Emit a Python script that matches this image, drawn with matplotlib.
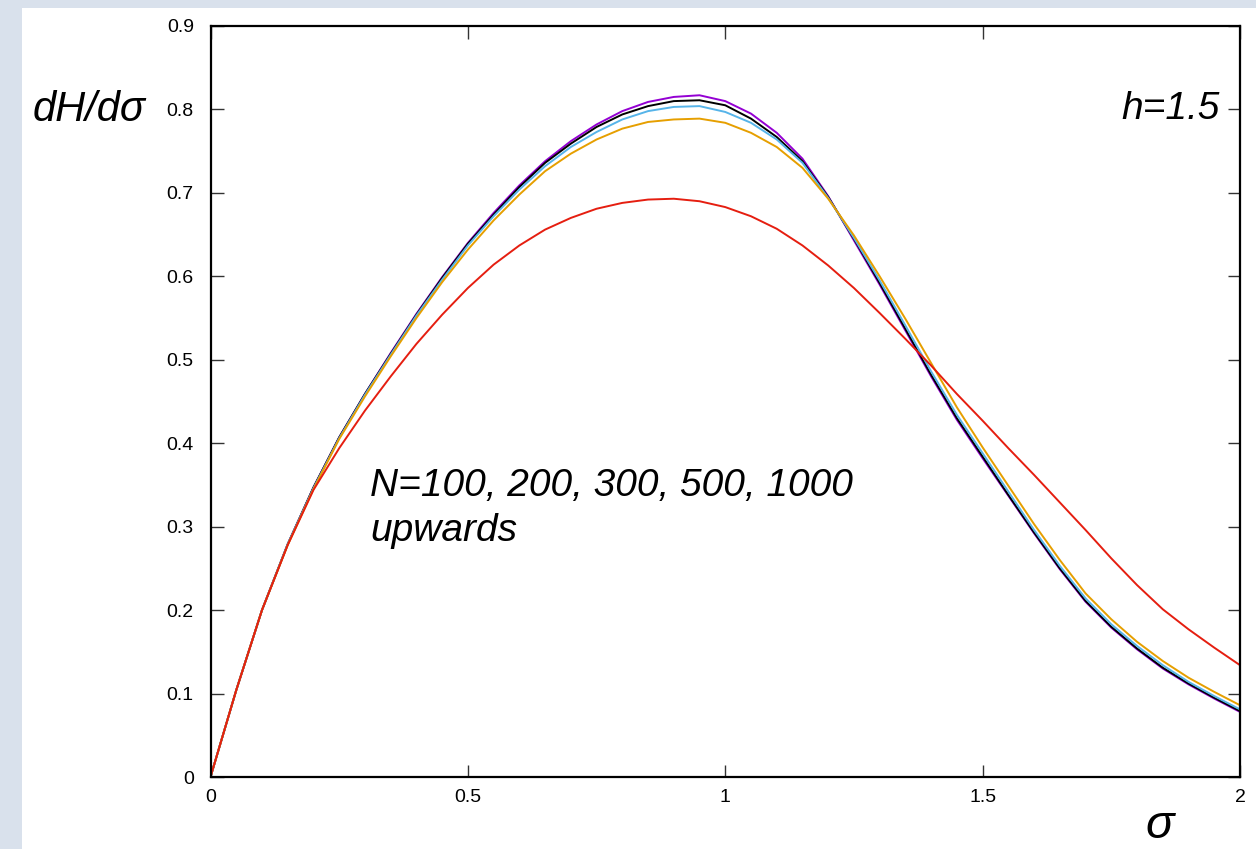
import matplotlib
matplotlib.use("Agg")
from matplotlib import pyplot as plt
from matplotlib import patches as mpatches
from matplotlib import ticker

# sigma grid (step 0.05) and dH/dsigma for each N
sigma = [0.00, 0.05, 0.10, 0.15, 0.20, 0.25, 0.30, 0.35, 0.40, 0.45,
         0.50, 0.55, 0.60, 0.65, 0.70, 0.75, 0.80, 0.85, 0.90, 0.95,
         1.00, 1.05, 1.10, 1.15, 1.20, 1.25, 1.30, 1.35, 1.40, 1.45,
         1.50, 1.55, 1.60, 1.65, 1.70, 1.75, 1.80, 1.85, 1.90, 1.95, 2.00]

n1000 = [0.000, 0.104, 0.200, 0.279, 0.347, 0.407, 0.459, 0.508, 0.555, 0.599,
         0.640, 0.676, 0.709, 0.738, 0.762, 0.782, 0.798, 0.809, 0.815, 0.817,
         0.810, 0.795, 0.772, 0.741, 0.696, 0.643, 0.590, 0.535, 0.480, 0.428,
         0.382, 0.337, 0.292, 0.249, 0.210, 0.179, 0.153, 0.130, 0.111, 0.094, 0.078]

n500 = [0.000, 0.104, 0.200, 0.279, 0.347, 0.407, 0.459, 0.507, 0.554, 0.598,
        0.639, 0.674, 0.707, 0.736, 0.759, 0.779, 0.794, 0.804, 0.810, 0.811,
        0.805, 0.789, 0.767, 0.738, 0.695, 0.645, 0.592, 0.537, 0.482, 0.430,
        0.384, 0.338, 0.293, 0.250, 0.211, 0.180, 0.154, 0.131, 0.112, 0.095, 0.079]

n300 = [0.000, 0.104, 0.200, 0.279, 0.346, 0.406, 0.458, 0.506, 0.553, 0.596,
        0.637, 0.672, 0.704, 0.732, 0.755, 0.773, 0.788, 0.798, 0.803, 0.804,
        0.797, 0.784, 0.764, 0.736, 0.694, 0.646, 0.595, 0.541, 0.486, 0.434,
        0.388, 0.342, 0.296, 0.253, 0.214, 0.183, 0.157, 0.134, 0.114, 0.097, 0.081]

n200 = [0.000, 0.104, 0.200, 0.278, 0.345, 0.405, 0.456, 0.504, 0.550, 0.593,
        0.632, 0.667, 0.698, 0.726, 0.747, 0.764, 0.777, 0.785, 0.788, 0.789,
        0.784, 0.772, 0.755, 0.730, 0.693, 0.649, 0.600, 0.549, 0.496, 0.443,
        0.395, 0.349, 0.303, 0.260, 0.220, 0.189, 0.162, 0.139, 0.119, 0.102, 0.086]

n100 = [0.000, 0.104, 0.200, 0.278, 0.344, 0.394, 0.439, 0.480, 0.519, 0.554,
        0.586, 0.614, 0.637, 0.656, 0.670, 0.681, 0.688, 0.692, 0.693, 0.690,
        0.683, 0.672, 0.657, 0.637, 0.613, 0.586, 0.556, 0.525, 0.493, 0.459,
        0.427, 0.394, 0.362, 0.329, 0.296, 0.262, 0.230, 0.201, 0.177, 0.155, 0.134]

series = [(n1000, "#9400d3"), (n500, "#000000"), (n300, "#56b4e9"),
          (n200, "#e69f00"), (n100, "#e51e10")]

x_ticks = [0, 0.5, 1, 1.5, 2]
y_ticks = [0, 0.1, 0.2, 0.3, 0.4, 0.5, 0.6, 0.7, 0.8, 0.9]

plt.rcParams['font.family'] = ['Liberation Sans', 'DejaVu Sans']

W, H = 1256, 849
fig = plt.figure(figsize=(W / 100, H / 100), dpi=100, facecolor="#d9e1ec")
# white sheet over the bluish page background
fig.patches.append(mpatches.Rectangle((22 / W, 0), 1, 1 - 8 / H,
                                      transform=fig.transFigure,
                                      facecolor="white", edgecolor="none",
                                      zorder=-10))

ax = fig.add_axes([210.5 / W, 72 / H, 1029.5 / W, 751 / H])
ax.set_facecolor("white")

for vals, col in series:
    ax.plot(sigma, vals, color=col, lw=1.4)

ax.set_xlim(0, 2)
ax.set_ylim(0, 0.9)
ax.set_xticks(x_ticks)
ax.set_yticks(y_ticks)
ax.xaxis.set_major_formatter(ticker.FormatStrFormatter("%g"))
ax.yaxis.set_major_formatter(ticker.FormatStrFormatter("%g"))
ax.tick_params(direction="in", length=9, width=1, color="#333333",
               top=True, right=True, labelsize=14)
ax.tick_params(axis="y", pad=12)
ax.tick_params(axis="x", pad=9)
for sp in ax.spines.values():
    sp.set_linewidth(1.6)

ax.text(1.961, 0.800, "h=1.5", style="italic", fontsize=28,
        ha="right", va="center")
ax.text(0.31, 0.322, "N=100, 200, 300, 500, 1000\nupwards", style="italic",
        fontsize=28, ha="left", va="center", linespacing=1.3)

fig.text(33 / W, 1 - 110 / H, "dH/d\u03c3", style="italic", fontsize=30,
         ha="left", va="center")
fig.text(1160 / W, 1 - 826 / H, "\u03c3", style="italic", fontsize=34,
         ha="center", va="center")

fig.savefig("out.png", dpi=100, facecolor=fig.get_facecolor())
